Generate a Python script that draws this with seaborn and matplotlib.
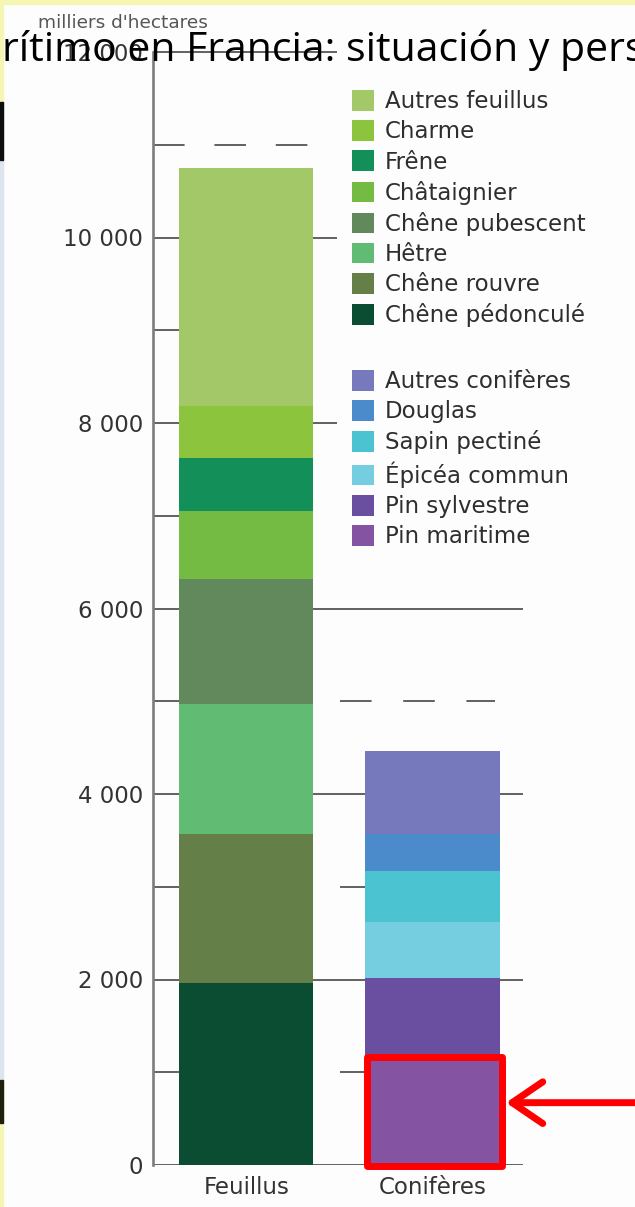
import matplotlib
matplotlib.use("Agg")
import matplotlib.pyplot as plt
from matplotlib.patches import Patch, Rectangle
import seaborn as sns
import pandas as pd

# data (milliers d'hectares), stacked bottom -> top
groups = ["Feuillus", "Conifères"]

feuillus_species = ["Chêne pédonculé", "Chêne rouvre", "Hêtre", "Chêne pubescent",
                    "Châtaignier", "Frêne", "Charme", "Autres feuillus"]
feuillus_values = [1960, 1610, 1400, 1345, 735, 570, 560, 2570]
feuillus_colors = ["#0b4d33", "#647f48", "#62bb73", "#62895c",
                   "#73bb43", "#13905a", "#8cc43d", "#a2c867"]

coniferes_species = ["Pin maritime", "Pin sylvestre", "Épicéa commun",
                     "Sapin pectiné", "Douglas", "Autres conifères"]
coniferes_values = [1200, 820, 600, 550, 400, 890]
coniferes_colors = ["#8453a2", "#6a4ea0", "#75cde0", "#4bc3d0", "#4b8bcb", "#7679bc"]

y_ticks = [0, 2000, 4000, 6000, 8000, 10000, 12000]
y_labels = ["0", "2 000", "4 000", "6 000", "8 000", "10 000", "12 000"]

title_text = "rítimo en Francia: situación y perspectivas"
unit_text = "milliers d'hectares"

sns.set_theme(style="white")
plt.rcParams["font.family"] = ["DejaVu Sans"]

W, H = 635, 1207
fig = plt.figure(figsize=(W / 100, H / 100), dpi=100)
fig.patch.set_facecolor("#fdfdfd")
ax = fig.add_axes([153 / W, 42 / H, 482 / W, 1113 / H])
ax.set_facecolor("#fdfdfd")

# long table of the stacks
rows = []
for sp, v, c in zip(feuillus_species, feuillus_values, feuillus_colors):
    rows.append(("Feuillus", sp, v, c))
for sp, v, c in zip(coniferes_species, coniferes_values, coniferes_colors):
    rows.append(("Conifères", sp, v, c))
df = pd.DataFrame(rows, columns=["groupe", "essence", "surface", "couleur"])
df["cumul"] = df.groupby("groupe")["surface"].cumsum()

bar_w = 0.72
# tallest cumulative first so the lower layers sit on top
for _, r in df.sort_values("cumul", ascending=False).iterrows():
    sns.barplot(x=[r["groupe"]], y=[r["cumul"]], order=groups, color=r["couleur"],
                saturation=1, width=bar_w, linewidth=0, errorbar=None, ax=ax, zorder=2)

# grid segments like the original (behind bars)
gc = "#555555"
ax.hlines([0, 2000, 4000, 6000], -0.5, 1.485, color=gc, lw=1.3, zorder=1)
ax.hlines([1000, 3000, 5000, 7000, 9000], -0.5, -0.36, color=gc, lw=1.3, zorder=1)
ax.hlines([1000, 3000], 0.504, 0.64, color=gc, lw=1.3, zorder=1)
ax.hlines([8000, 10000], -0.5, 0.488, color=gc, lw=1.3, zorder=1)
ax.hlines([12000], -0.5, 0.488, color=gc, lw=1.3, zorder=1, clip_on=False)
ax.hlines([11000], -0.5, 0.332, color=gc, lw=1.3, zorder=1, linestyles=(0, (17.5, 16.5)))
ax.hlines([5000], 0.504, 1.335, color=gc, lw=1.3, zorder=1, linestyles=(0, (17.5, 17.5)))

ax.set_xlim(-0.5, 2.086)
ax.set_ylim(0, 12000)
ax.set_yticks(y_ticks)
ax.set_yticklabels(y_labels)
ax.set_xlabel("")
ax.set_ylabel("")
ax.tick_params(axis="both", length=0, labelsize=16.5, labelcolor="#333333")
ax.tick_params(axis="y", pad=7)
ax.tick_params(axis="x", pad=8)
for s in ["top", "right", "bottom"]:
    ax.spines[s].set_visible(False)
ax.spines["left"].set_color("#7d7d7d")
ax.spines["left"].set_linewidth(1.9)
ax.spines["left"].set_zorder(3)

# two legend blocks: feuillus then conifères
leg_kw = dict(loc="upper left", bbox_transform=fig.transFigure, frameon=False,
              fontsize=16.5, handlelength=0.95, handleheight=1.0, handletextpad=0.5,
              labelspacing=0.31, borderpad=0, borderaxespad=0, labelcolor="#2e2e2e")
leg1 = ax.legend([Patch(facecolor=c, lw=0) for c in feuillus_colors[::-1]],
                 feuillus_species[::-1], bbox_to_anchor=(352 / W, 1 - 90 / H), **leg_kw)
ax.add_artist(leg1)
ax.legend([Patch(facecolor=c, lw=0) for c in coniferes_colors[::-1]],
          coniferes_species[::-1], bbox_to_anchor=(352 / W, 1 - 370 / H), **leg_kw)

# red highlight around Pin maritime
pm = coniferes_values[0]
rect = Rectangle((1 - bar_w / 2 + 0.006, -16), bar_w + 0.009, pm - 15,
                 fill=False, edgecolor="#ff0000", lw=5, joinstyle="round",
                 clip_on=False, zorder=5)
ax.add_patch(rect)
ax.annotate("", xy=(1 + bar_w / 2 + 0.034, pm * 0.56), xytext=(2.1, pm * 0.56),
            arrowprops=dict(arrowstyle="->,head_length=1.1,head_width=0.75",
                            color="#ff0000", lw=5, mutation_scale=20,
                            shrinkA=0, shrinkB=0, capstyle="round", joinstyle="round"),
            annotation_clip=False, zorder=5)

# slide frame remnants
fig.patches.append(Rectangle((0, 1 - 4 / H), 1, 4 / H, transform=fig.transFigure,
                             color="#f5f5b4", zorder=0))
fig.patches.append(Rectangle((0, 0), 3 / W, 1, transform=fig.transFigure,
                             color="#f5f5b4", zorder=0))
fig.patches.append(Rectangle((0, 1 - 1080 / H), 3 / W, 920 / H, transform=fig.transFigure,
                             color="#dde5f0", zorder=0))
fig.patches.append(Rectangle((0, 1 - 160 / H), 3 / W, 58 / H, transform=fig.transFigure,
                             color="#0d0d0d", zorder=0))
fig.patches.append(Rectangle((0, 1 - 1123 / H), 3 / W, 43 / H, transform=fig.transFigure,
                             color="#1e200c", zorder=0))

fig.text(38 / W, 1 - 28 / H, unit_text, fontsize=13.3, color="#555555",
         ha="left", va="baseline")
fig.text(2 / W, 1 - 61 / H, title_text, fontsize=29.5, color="black",
         family=["Open Sans", "DejaVu Sans"], ha="left", va="baseline")

fig.savefig("out.png", dpi=100, facecolor=fig.get_facecolor())
